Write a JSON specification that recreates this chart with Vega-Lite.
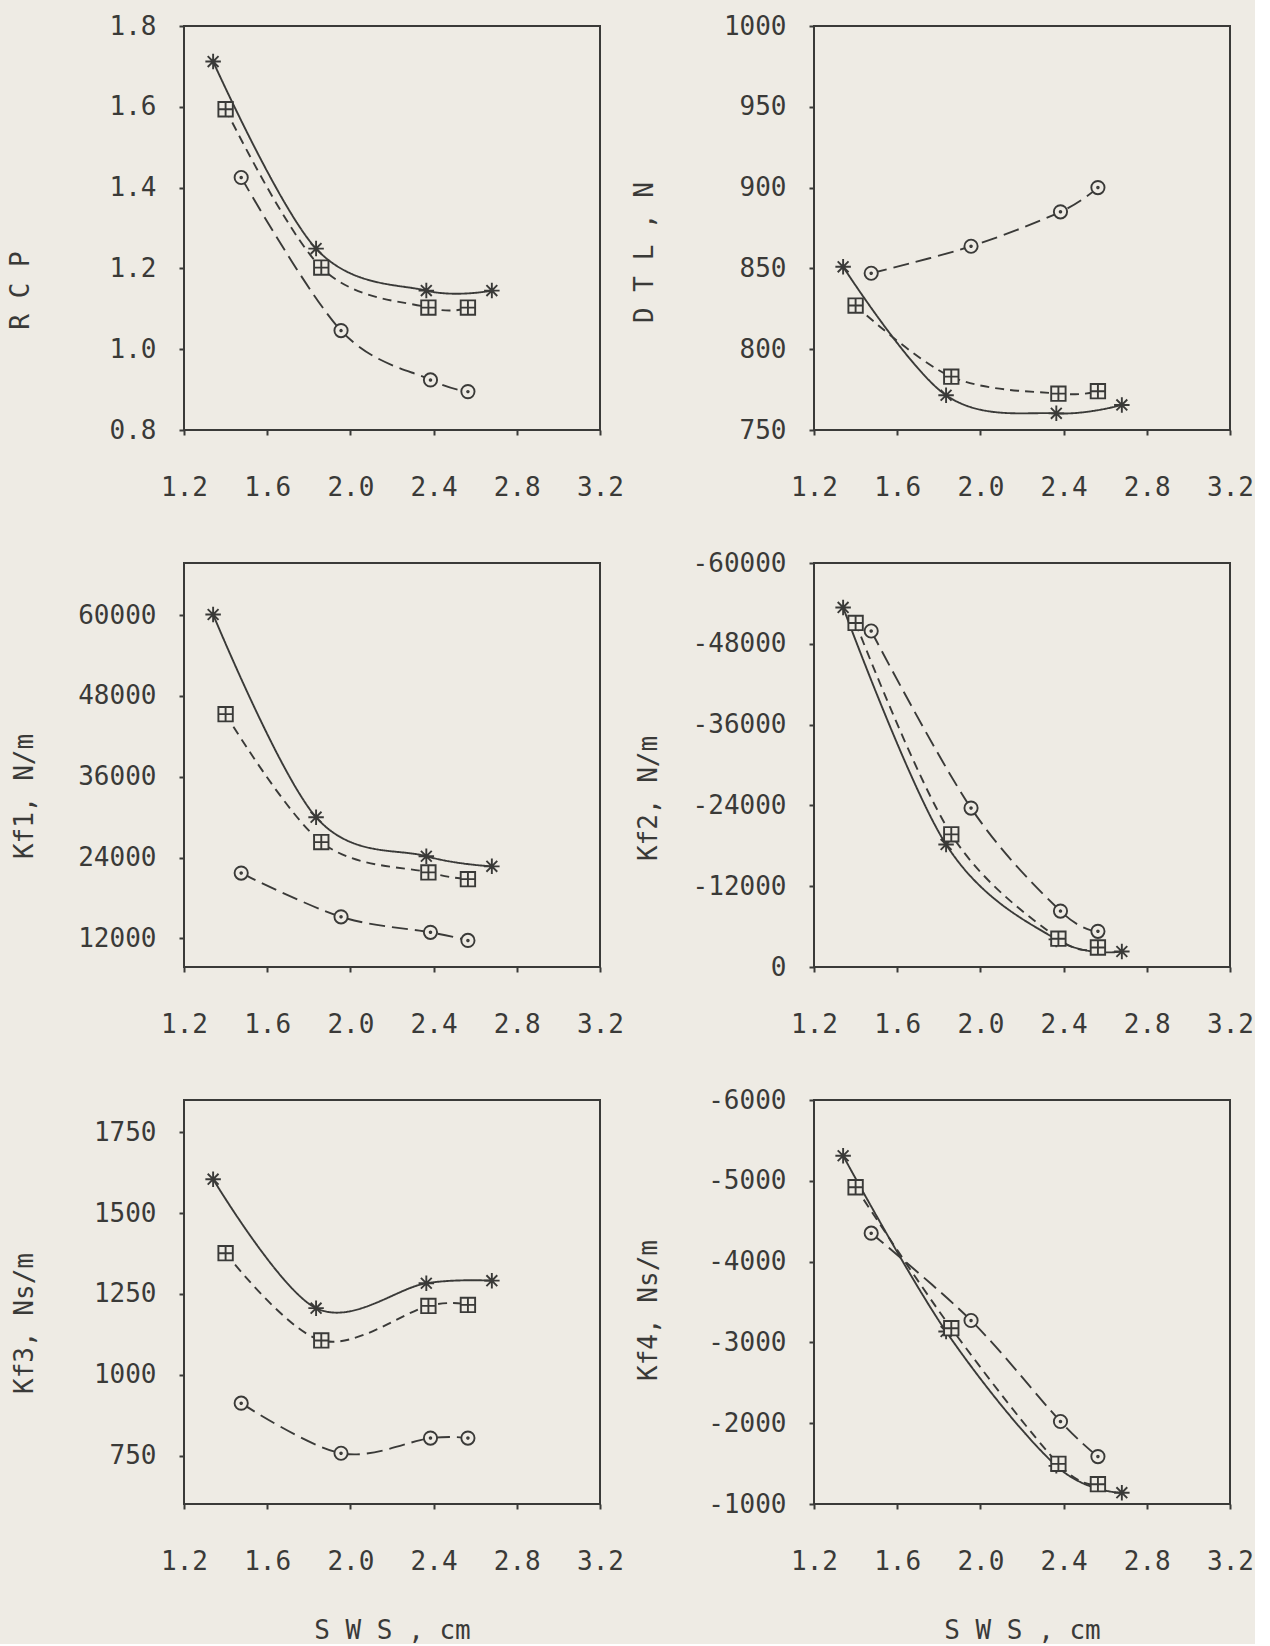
{
  "$schema": "https://vega.github.io/schema/vega-lite/v6.json",
  "background": "#eeebe4",
  "padding": {"left": 6, "top": 12, "right": 0, "bottom": 0},
  "data": {
    "values": [
      {"panel": "RCP", "series": "A", "sws": 1.34, "value": 1.712},
      {"panel": "RCP", "series": "A", "sws": 1.835, "value": 1.249},
      {"panel": "RCP", "series": "A", "sws": 2.365, "value": 1.145},
      {"panel": "RCP", "series": "A", "sws": 2.68, "value": 1.145},
      {"panel": "RCP", "series": "B", "sws": 1.40, "value": 1.594},
      {"panel": "RCP", "series": "B", "sws": 1.86, "value": 1.202},
      {"panel": "RCP", "series": "B", "sws": 2.375, "value": 1.103},
      {"panel": "RCP", "series": "B", "sws": 2.565, "value": 1.103},
      {"panel": "RCP", "series": "C", "sws": 1.475, "value": 1.425},
      {"panel": "RCP", "series": "C", "sws": 1.955, "value": 1.046},
      {"panel": "RCP", "series": "C", "sws": 2.385, "value": 0.924},
      {"panel": "RCP", "series": "C", "sws": 2.565, "value": 0.895},

      {"panel": "DTL", "series": "A", "sws": 1.34, "value": 851},
      {"panel": "DTL", "series": "A", "sws": 1.835, "value": 771.5},
      {"panel": "DTL", "series": "A", "sws": 2.365, "value": 760.3},
      {"panel": "DTL", "series": "A", "sws": 2.68, "value": 765.5},
      {"panel": "DTL", "series": "B", "sws": 1.40, "value": 827},
      {"panel": "DTL", "series": "B", "sws": 1.86, "value": 783},
      {"panel": "DTL", "series": "B", "sws": 2.375, "value": 772.5},
      {"panel": "DTL", "series": "B", "sws": 2.565, "value": 774},
      {"panel": "DTL", "series": "C", "sws": 1.475, "value": 847},
      {"panel": "DTL", "series": "C", "sws": 1.955, "value": 863.7},
      {"panel": "DTL", "series": "C", "sws": 2.385, "value": 885},
      {"panel": "DTL", "series": "C", "sws": 2.565, "value": 900},

      {"panel": "Kf1", "series": "A", "sws": 1.34, "value": 60100},
      {"panel": "Kf1", "series": "A", "sws": 1.835, "value": 30000},
      {"panel": "Kf1", "series": "A", "sws": 2.365, "value": 24200},
      {"panel": "Kf1", "series": "A", "sws": 2.68, "value": 22700},
      {"panel": "Kf1", "series": "B", "sws": 1.40, "value": 45300},
      {"panel": "Kf1", "series": "B", "sws": 1.86, "value": 26300},
      {"panel": "Kf1", "series": "B", "sws": 2.375, "value": 21800},
      {"panel": "Kf1", "series": "B", "sws": 2.565, "value": 20800},
      {"panel": "Kf1", "series": "C", "sws": 1.475, "value": 21700},
      {"panel": "Kf1", "series": "C", "sws": 1.955, "value": 15200},
      {"panel": "Kf1", "series": "C", "sws": 2.385, "value": 12900},
      {"panel": "Kf1", "series": "C", "sws": 2.565, "value": 11700},

      {"panel": "Kf2", "series": "A", "sws": 1.34, "value": -53400},
      {"panel": "Kf2", "series": "A", "sws": 1.835, "value": -18200},
      {"panel": "Kf2", "series": "A", "sws": 2.365, "value": -4100},
      {"panel": "Kf2", "series": "A", "sws": 2.68, "value": -2300},
      {"panel": "Kf2", "series": "B", "sws": 1.40, "value": -51100},
      {"panel": "Kf2", "series": "B", "sws": 1.86, "value": -19700},
      {"panel": "Kf2", "series": "B", "sws": 2.375, "value": -4200},
      {"panel": "Kf2", "series": "B", "sws": 2.565, "value": -2900},
      {"panel": "Kf2", "series": "C", "sws": 1.475, "value": -49900},
      {"panel": "Kf2", "series": "C", "sws": 1.955, "value": -23600},
      {"panel": "Kf2", "series": "C", "sws": 2.385, "value": -8300},
      {"panel": "Kf2", "series": "C", "sws": 2.565, "value": -5300},

      {"panel": "Kf3", "series": "A", "sws": 1.34, "value": 1605},
      {"panel": "Kf3", "series": "A", "sws": 1.835, "value": 1206},
      {"panel": "Kf3", "series": "A", "sws": 2.365, "value": 1283},
      {"panel": "Kf3", "series": "A", "sws": 2.68, "value": 1291},
      {"panel": "Kf3", "series": "B", "sws": 1.40, "value": 1376},
      {"panel": "Kf3", "series": "B", "sws": 1.86, "value": 1106},
      {"panel": "Kf3", "series": "B", "sws": 2.375, "value": 1213},
      {"panel": "Kf3", "series": "B", "sws": 2.565, "value": 1216},
      {"panel": "Kf3", "series": "C", "sws": 1.475, "value": 912},
      {"panel": "Kf3", "series": "C", "sws": 1.955, "value": 757},
      {"panel": "Kf3", "series": "C", "sws": 2.385, "value": 804},
      {"panel": "Kf3", "series": "C", "sws": 2.565, "value": 804},

      {"panel": "Kf4", "series": "A", "sws": 1.34, "value": -5310},
      {"panel": "Kf4", "series": "A", "sws": 1.835, "value": -3135},
      {"panel": "Kf4", "series": "A", "sws": 2.365, "value": -1472},
      {"panel": "Kf4", "series": "A", "sws": 2.68, "value": -1140},
      {"panel": "Kf4", "series": "B", "sws": 1.40, "value": -4920},
      {"panel": "Kf4", "series": "B", "sws": 1.86, "value": -3176},
      {"panel": "Kf4", "series": "B", "sws": 2.375, "value": -1497},
      {"panel": "Kf4", "series": "B", "sws": 2.565, "value": -1245},
      {"panel": "Kf4", "series": "C", "sws": 1.475, "value": -4352},
      {"panel": "Kf4", "series": "C", "sws": 1.955, "value": -3271},
      {"panel": "Kf4", "series": "C", "sws": 2.385, "value": -2021},
      {"panel": "Kf4", "series": "C", "sws": 2.565, "value": -1587}
    ]
  },
  "columns": 2,
  "bounds": "flush",
  "spacing": {"row": 133, "column": 214},
  "concat": [
    {
      "width": 416, "height": 404,
      "transform": [{"filter": "datum.panel === 'RCP'"}],
      "encoding": {
        "x": {"field": "sws", "type": "quantitative", "scale": {"domain": [1.2, 3.2], "nice": false, "zero": false},
              "axis": {"values": [1.2, 1.6, 2.0, 2.4, 2.8, 3.2], "format": ".1f", "title": null}},
        "y": {"field": "value", "type": "quantitative", "scale": {"domain": [0.8, 1.8], "nice": false, "zero": false},
              "axis": {"values": [0.8, 1.0, 1.2, 1.4, 1.6, 1.8], "format": ".1f", "title": "R C P", "titleX": -164, "titleY": 264}}
      },
      "layer": [
        {"mark": {"type": "line", "interpolate": "cardinal", "strokeWidth": 1.9, "color": "#3a3a38"},
         "encoding": {"strokeDash": {"field": "series", "type": "nominal", "scale": {"domain": ["A", "B", "C"], "range": [[1, 0], [9, 6], [16, 7]]}, "legend": null}}},
        {"mark": {"type": "point", "filled": true, "fill": "#eeebe4", "stroke": "#3a3a38", "strokeWidth": 1.9, "opacity": 1},
         "encoding": {
           "shape": {"field": "series", "type": "nominal", "scale": {"domain": ["A", "B", "C"], "range": ["M-1,0L1,0M0,-1L0,1M-0.7,-0.7L0.7,0.7M-0.7,0.7L0.7,-0.7", "M-1,-1L1,-1L1,1L-1,1ZM0,-1L0,1M-1,0L1,0", "M1,0A1,1,0,1,1,-1,0A1,1,0,1,1,1,0ZM0.12,0A0.12,0.12,0,1,1,-0.12,0A0.12,0.12,0,1,1,0.12,0Z"]}, "legend": null},
           "size": {"field": "series", "type": "ordinal", "scale": {"domain": ["A", "B", "C"], "range": [240, 175, 200]}, "legend": null}}}
      ]
    },
    {
      "width": 416, "height": 404,
      "transform": [{"filter": "datum.panel === 'DTL'"}],
      "encoding": {
        "x": {"field": "sws", "type": "quantitative", "scale": {"domain": [1.2, 3.2], "nice": false, "zero": false},
              "axis": {"values": [1.2, 1.6, 2.0, 2.4, 2.8, 3.2], "format": ".1f", "title": null}},
        "y": {"field": "value", "type": "quantitative", "scale": {"domain": [750, 1000], "nice": false, "zero": false},
              "axis": {"values": [750, 800, 850, 900, 950, 1000], "format": "d", "title": "D T L , N", "titleX": -170, "titleY": 226}}
      },
      "layer": [
        {"mark": {"type": "line", "interpolate": "cardinal", "strokeWidth": 1.9, "color": "#3a3a38"},
         "encoding": {"strokeDash": {"field": "series", "type": "nominal", "scale": {"domain": ["A", "B", "C"], "range": [[1, 0], [9, 6], [16, 7]]}, "legend": null}}},
        {"mark": {"type": "point", "filled": true, "fill": "#eeebe4", "stroke": "#3a3a38", "strokeWidth": 1.9, "opacity": 1},
         "encoding": {
           "shape": {"field": "series", "type": "nominal", "scale": {"domain": ["A", "B", "C"], "range": ["M-1,0L1,0M0,-1L0,1M-0.7,-0.7L0.7,0.7M-0.7,0.7L0.7,-0.7", "M-1,-1L1,-1L1,1L-1,1ZM0,-1L0,1M-1,0L1,0", "M1,0A1,1,0,1,1,-1,0A1,1,0,1,1,1,0ZM0.12,0A0.12,0.12,0,1,1,-0.12,0A0.12,0.12,0,1,1,0.12,0Z"]}, "legend": null},
           "size": {"field": "series", "type": "ordinal", "scale": {"domain": ["A", "B", "C"], "range": [240, 175, 200]}, "legend": null}}}
      ]
    },
    {
      "width": 416, "height": 404,
      "transform": [{"filter": "datum.panel === 'Kf1'"}],
      "encoding": {
        "x": {"field": "sws", "type": "quantitative", "scale": {"domain": [1.2, 3.2], "nice": false, "zero": false},
              "axis": {"values": [1.2, 1.6, 2.0, 2.4, 2.8, 3.2], "format": ".1f", "title": null}},
        "y": {"field": "value", "type": "quantitative", "scale": {"domain": [7750, 67750], "nice": false, "zero": false},
              "axis": {"values": [12000, 24000, 36000, 48000, 60000], "format": "d", "title": "Kf1, N/m", "titleX": -160, "titleY": 233}}
      },
      "layer": [
        {"mark": {"type": "line", "interpolate": "cardinal", "strokeWidth": 1.9, "color": "#3a3a38"},
         "encoding": {"strokeDash": {"field": "series", "type": "nominal", "scale": {"domain": ["A", "B", "C"], "range": [[1, 0], [9, 6], [16, 7]]}, "legend": null}}},
        {"mark": {"type": "point", "filled": true, "fill": "#eeebe4", "stroke": "#3a3a38", "strokeWidth": 1.9, "opacity": 1},
         "encoding": {
           "shape": {"field": "series", "type": "nominal", "scale": {"domain": ["A", "B", "C"], "range": ["M-1,0L1,0M0,-1L0,1M-0.7,-0.7L0.7,0.7M-0.7,0.7L0.7,-0.7", "M-1,-1L1,-1L1,1L-1,1ZM0,-1L0,1M-1,0L1,0", "M1,0A1,1,0,1,1,-1,0A1,1,0,1,1,1,0ZM0.12,0A0.12,0.12,0,1,1,-0.12,0A0.12,0.12,0,1,1,0.12,0Z"]}, "legend": null},
           "size": {"field": "series", "type": "ordinal", "scale": {"domain": ["A", "B", "C"], "range": [240, 175, 200]}, "legend": null}}}
      ]
    },
    {
      "width": 416, "height": 404,
      "transform": [{"filter": "datum.panel === 'Kf2'"}],
      "encoding": {
        "x": {"field": "sws", "type": "quantitative", "scale": {"domain": [1.2, 3.2], "nice": false, "zero": false},
              "axis": {"values": [1.2, 1.6, 2.0, 2.4, 2.8, 3.2], "format": ".1f", "title": null}},
        "y": {"field": "value", "type": "quantitative", "scale": {"domain": [0, -60000], "nice": false, "zero": false},
              "axis": {"values": [0, -12000, -24000, -36000, -48000, -60000], "format": "d", "title": "Kf2, N/m", "titleX": -166, "titleY": 235}}
      },
      "layer": [
        {"mark": {"type": "line", "interpolate": "cardinal", "strokeWidth": 1.9, "color": "#3a3a38"},
         "encoding": {"strokeDash": {"field": "series", "type": "nominal", "scale": {"domain": ["A", "B", "C"], "range": [[1, 0], [9, 6], [16, 7]]}, "legend": null}}},
        {"mark": {"type": "point", "filled": true, "fill": "#eeebe4", "stroke": "#3a3a38", "strokeWidth": 1.9, "opacity": 1},
         "encoding": {
           "shape": {"field": "series", "type": "nominal", "scale": {"domain": ["A", "B", "C"], "range": ["M-1,0L1,0M0,-1L0,1M-0.7,-0.7L0.7,0.7M-0.7,0.7L0.7,-0.7", "M-1,-1L1,-1L1,1L-1,1ZM0,-1L0,1M-1,0L1,0", "M1,0A1,1,0,1,1,-1,0A1,1,0,1,1,1,0ZM0.12,0A0.12,0.12,0,1,1,-0.12,0A0.12,0.12,0,1,1,0.12,0Z"]}, "legend": null},
           "size": {"field": "series", "type": "ordinal", "scale": {"domain": ["A", "B", "C"], "range": [240, 175, 200]}, "legend": null}}}
      ]
    },
    {
      "width": 416, "height": 404,
      "transform": [{"filter": "datum.panel === 'Kf3'"}],
      "encoding": {
        "x": {"field": "sws", "type": "quantitative", "scale": {"domain": [1.2, 3.2], "nice": false, "zero": false},
              "axis": {"values": [1.2, 1.6, 2.0, 2.4, 2.8, 3.2], "format": ".1f", "title": "S W S , cm", "titleY": 126, "titleBaseline": "middle"}},
        "y": {"field": "value", "type": "quantitative", "scale": {"domain": [600, 1850], "nice": false, "zero": false},
              "axis": {"values": [750, 1000, 1250, 1500, 1750], "format": "d", "title": "Kf3, Ns/m", "titleX": -160, "titleY": 223}}
      },
      "layer": [
        {"mark": {"type": "line", "interpolate": "cardinal", "strokeWidth": 1.9, "color": "#3a3a38"},
         "encoding": {"strokeDash": {"field": "series", "type": "nominal", "scale": {"domain": ["A", "B", "C"], "range": [[1, 0], [9, 6], [16, 7]]}, "legend": null}}},
        {"mark": {"type": "point", "filled": true, "fill": "#eeebe4", "stroke": "#3a3a38", "strokeWidth": 1.9, "opacity": 1},
         "encoding": {
           "shape": {"field": "series", "type": "nominal", "scale": {"domain": ["A", "B", "C"], "range": ["M-1,0L1,0M0,-1L0,1M-0.7,-0.7L0.7,0.7M-0.7,0.7L0.7,-0.7", "M-1,-1L1,-1L1,1L-1,1ZM0,-1L0,1M-1,0L1,0", "M1,0A1,1,0,1,1,-1,0A1,1,0,1,1,1,0ZM0.12,0A0.12,0.12,0,1,1,-0.12,0A0.12,0.12,0,1,1,0.12,0Z"]}, "legend": null},
           "size": {"field": "series", "type": "ordinal", "scale": {"domain": ["A", "B", "C"], "range": [240, 175, 200]}, "legend": null}}}
      ]
    },
    {
      "width": 416, "height": 404,
      "transform": [{"filter": "datum.panel === 'Kf4'"}],
      "encoding": {
        "x": {"field": "sws", "type": "quantitative", "scale": {"domain": [1.2, 3.2], "nice": false, "zero": false},
              "axis": {"values": [1.2, 1.6, 2.0, 2.4, 2.8, 3.2], "format": ".1f", "title": "S W S , cm", "titleY": 126, "titleBaseline": "middle"}},
        "y": {"field": "value", "type": "quantitative", "scale": {"domain": [-1000, -6000], "nice": false, "zero": false},
              "axis": {"values": [-1000, -2000, -3000, -4000, -5000, -6000], "format": "d", "title": "Kf4, Ns/m", "titleX": -166, "titleY": 210}}
      },
      "layer": [
        {"mark": {"type": "line", "interpolate": "cardinal", "strokeWidth": 1.9, "color": "#3a3a38"},
         "encoding": {"strokeDash": {"field": "series", "type": "nominal", "scale": {"domain": ["A", "B", "C"], "range": [[1, 0], [9, 6], [16, 7]]}, "legend": null}}},
        {"mark": {"type": "point", "filled": true, "fill": "#eeebe4", "stroke": "#3a3a38", "strokeWidth": 1.9, "opacity": 1},
         "encoding": {
           "shape": {"field": "series", "type": "nominal", "scale": {"domain": ["A", "B", "C"], "range": ["M-1,0L1,0M0,-1L0,1M-0.7,-0.7L0.7,0.7M-0.7,0.7L0.7,-0.7", "M-1,-1L1,-1L1,1L-1,1ZM0,-1L0,1M-1,0L1,0", "M1,0A1,1,0,1,1,-1,0A1,1,0,1,1,1,0ZM0.12,0A0.12,0.12,0,1,1,-0.12,0A0.12,0.12,0,1,1,0.12,0Z"]}, "legend": null},
           "size": {"field": "series", "type": "ordinal", "scale": {"domain": ["A", "B", "C"], "range": [240, 175, 200]}, "legend": null}}}
      ]
    }
  ],
  "config": {
    "locale": {"number": {"decimal": ".", "thousands": ",", "grouping": [3], "currency": ["$", ""], "minus": "-"}},
    "view": {"stroke": "#3a3a38", "strokeWidth": 2, "fill": "#eeebe4"},
    "font": "DejaVu Sans Mono",
    "axis": {
      "domain": false,
      "grid": false,
      "labelFont": "DejaVu Sans Mono",
      "labelFontSize": 26,
      "labelColor": "#3a3a38",
      "labelFlush": false,
      "labelOverlap": false,
      "labelBound": false,
      "titleFont": "DejaVu Sans Mono",
      "titleFontSize": 26,
      "titleFontWeight": "normal",
      "titleColor": "#3a3a38",
      "tickColor": "#3a3a38",
      "tickSize": 5,
      "tickWidth": 2
    },
    "axisX": {"labelPadding": 60, "labelBaseline": "alphabetic"},
    "axisY": {"labelPadding": 23, "titleAlign": "center", "titleBaseline": "middle"}
  }
}
